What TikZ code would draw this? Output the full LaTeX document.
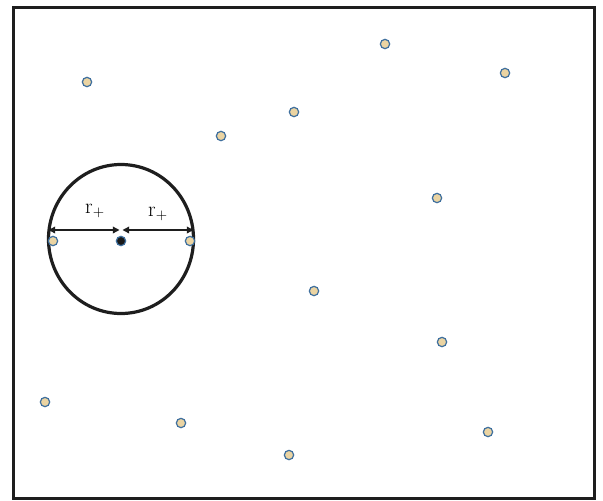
\documentclass[tikz,border=0pt]{standalone}
\usetikzlibrary{arrows.meta}
\definecolor{dotfill}{HTML}{EBD4A2}
\definecolor{dotline}{HTML}{3E6F9E}
\definecolor{frame}{HTML}{1E1E1E}
\begin{document}
\begin{tikzpicture}[x=0.75pt,y=-0.75pt,
  pt/.style={circle,draw=dotline,fill=dotfill,line width=0.9pt,minimum size=7pt,inner sep=0pt},
  ctr/.style={circle,draw=dotline,fill=black!90,line width=0.9pt,minimum size=7pt,inner sep=0pt},
  dim/.style={line width=1pt,draw=frame,{Triangle[length=5pt,width=5pt]}-{Triangle[length=5pt,width=5pt]}},
  lab/.style={font=\fontsize{16}{19}\selectfont,inner sep=0pt}]
\useasboundingbox (0,0) rectangle (603,500);
\draw[frame,line width=2.4pt] (13.5,7.5) rectangle (594.5,498.5);
\draw[frame,line width=2.4pt] (121,239) ellipse[x radius=72.5,y radius=74.5];
\node[pt] (p1) at (87,82) {};
\node[pt] (p2) at (385,44) {};
\node[pt] (p3) at (505,73) {};
\node[pt] (p4) at (294,112) {};
\node[pt] (p5) at (221,136) {};
\node[pt] (p6) at (437,198) {};
\node[pt] (p7) at (53,241) {};
\node[pt] (p8) at (190,241) {};
\node[ctr] (c) at (121,241) {};
\node[pt] (p9) at (314,291) {};
\node[pt] (p10) at (442,342) {};
\node[pt] (p11) at (45,402) {};
\node[pt] (p12) at (181,423) {};
\node[pt] (p13) at (289,455) {};
\node[pt] (p14) at (488,432) {};
\coordinate (aL) at (48.5,230);
\coordinate (aR) at (193.5,230);
\coordinate (mL) at (119.5,230);
\coordinate (mR) at (122.5,230);
\draw[dim] (aL) -- (mL);
\draw[dim] (mR) -- (aR);
\node[lab] (r1) at (95,211) {r$_+$};
\node[lab] (r2) at (158,214) {r$_+$};
\end{tikzpicture}
\end{document}
